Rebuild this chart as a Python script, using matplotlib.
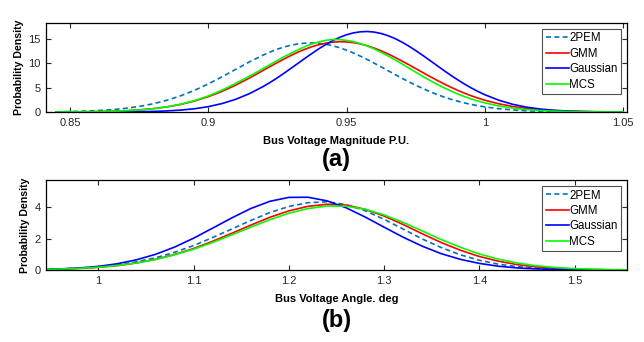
import matplotlib
matplotlib.use("Agg")
import matplotlib.pyplot as plt

plt.rcParams['font.family'] = ['Liberation Sans', 'DejaVu Sans']

# ---- (a) bus voltage magnitude densities ----
mag_x = [0.845, 0.850, 0.855, 0.860, 0.865, 0.870, 0.875, 0.880, 0.885, 0.890,
         0.895, 0.900, 0.905, 0.910, 0.915, 0.920,
         0.9225, 0.925, 0.9275, 0.930, 0.9325, 0.935, 0.9375, 0.940, 0.9425,
         0.945, 0.9475, 0.950, 0.9525, 0.955, 0.9575, 0.960, 0.9625, 0.965,
         0.9675, 0.970, 0.9725, 0.975, 0.9775, 0.980, 0.9825, 0.985, 0.9875,
         0.990, 0.9925, 0.995, 0.9975,
         1.000, 1.005, 1.010, 1.015, 1.020, 1.025, 1.030, 1.035, 1.040,
         1.045, 1.050]
mag_2pem = [0.05, 0.10, 0.17, 0.29, 0.47, 0.75, 1.14, 1.68, 2.41, 3.33,
            4.46, 5.78, 7.25, 8.80, 10.34, 11.75,
            12.37, 12.92, 13.38, 13.75, 14.01, 14.16, 14.20, 14.12, 13.92,
            13.62, 13.21, 12.71, 12.13, 11.48, 10.78, 10.04, 9.27, 8.49,
            7.71, 6.95, 6.21, 5.50, 4.84, 4.22, 3.65, 3.13, 2.66,
            2.25, 1.88, 1.56, 1.29,
            1.05, 0.68, 0.43, 0.26, 0.15, 0.09, 0.05, 0.03, 0.01,
            0.01, 0.00]
mag_gmm = [0.01, 0.03, 0.05, 0.09, 0.15, 0.26, 0.43, 0.68, 1.05, 1.56,
           2.26, 3.15, 4.25, 5.56, 7.03, 8.61,
           9.40, 10.18, 10.94, 11.66, 12.33, 12.92, 13.43, 13.85, 14.16,
           14.36, 14.45, 14.41, 14.26, 13.99, 13.61, 13.14, 12.58, 11.94,
           11.24, 10.49, 9.72, 8.93, 8.13, 7.34, 6.58, 5.85, 5.15,
           4.50, 3.90, 3.35, 2.86,
           2.42, 1.69, 1.14, 0.74, 0.47, 0.29, 0.17, 0.10, 0.05,
           0.03, 0.02]
mag_gauss = [0.00, 0.00, 0.00, 0.01, 0.01, 0.03, 0.06, 0.12, 0.22, 0.39,
             0.67, 1.10, 1.74, 2.63, 3.81, 5.29,
             6.14, 7.05, 8.02, 9.02, 10.04, 11.06, 12.05, 13.01, 13.89,
             14.68, 15.35, 15.89, 16.27, 16.49, 16.55, 16.43, 16.14, 15.69,
             15.10, 14.37, 13.55, 12.63, 11.66, 10.65, 9.63, 8.61, 7.62,
             6.68, 5.79, 4.97, 4.22,
             3.55, 2.43, 1.59, 1.00, 0.61, 0.35, 0.20, 0.10, 0.05,
             0.03, 0.01]
mag_mcs = [0.01, 0.02, 0.04, 0.08, 0.14, 0.24, 0.41, 0.67, 1.05, 1.60,
           2.34, 3.30, 4.50, 5.92, 7.40, 9.00,
           9.80, 10.60, 11.40, 12.10, 12.80, 13.45, 14.00, 14.40, 14.76,
           14.89, 14.87, 14.73, 14.45, 14.06, 13.55, 12.96, 12.26, 11.52,
           10.72, 9.89, 9.03, 8.19, 7.34, 6.54, 5.77, 5.04, 4.37,
           3.75, 3.19, 2.70, 2.25,
           1.87, 1.25, 0.81, 0.50, 0.30, 0.18, 0.10, 0.05, 0.03,
           0.01, 0.01]

# ---- (b) bus voltage angle densities ----
ang_x = [0.94, 0.96, 0.98, 1.00, 1.02, 1.04, 1.06, 1.08, 1.10, 1.12,
         1.14, 1.16, 1.18, 1.20, 1.22, 1.24, 1.26, 1.28, 1.30, 1.32,
         1.34, 1.36, 1.38, 1.40, 1.42, 1.44, 1.46, 1.48, 1.50, 1.52,
         1.54, 1.56]
ang_2pem = [0.03, 0.06, 0.12, 0.20, 0.33, 0.52, 0.78, 1.13, 1.56, 2.07,
            2.61, 3.16, 3.66, 4.05, 4.29, 4.35, 4.17, 3.78, 3.23, 2.61,
            1.98, 1.43, 0.97, 0.62, 0.37, 0.21, 0.11, 0.06, 0.03, 0.01,
            0.00, 0.00]
ang_gmm = [0.03, 0.06, 0.10, 0.17, 0.28, 0.45, 0.68, 0.99, 1.37, 1.83,
           2.34, 2.86, 3.36, 3.77, 4.06, 4.19, 4.14, 3.87, 3.44, 2.90,
           2.31, 1.75, 1.26, 0.86, 0.56, 0.34, 0.20, 0.11, 0.06, 0.03,
           0.01, 0.01]
ang_gauss = [0.03, 0.07, 0.13, 0.23, 0.40, 0.65, 1.00, 1.46, 2.03, 2.67,
             3.32, 3.92, 4.38, 4.63, 4.64, 4.41, 3.97, 3.38, 2.73, 2.09,
             1.52, 1.04, 0.68, 0.42, 0.24, 0.13, 0.07, 0.04, 0.02, 0.01,
             0.00, 0.00]
ang_mcs = [0.03, 0.06, 0.11, 0.18, 0.29, 0.45, 0.67, 0.97, 1.33, 1.76,
           2.24, 2.73, 3.21, 3.62, 3.92, 4.08, 4.07, 3.88, 3.51, 3.03,
           2.49, 1.94, 1.45, 1.02, 0.69, 0.44, 0.27, 0.16, 0.09, 0.05,
           0.02, 0.01]

labels = ['2PEM', 'GMM', 'Gaussian', 'MCS']
colors = ['#0072BD', '#FF0000', '#0000FF', '#00FF00']
styles = ['--', '-', '-', '-']

fig = plt.figure(figsize=(6.44, 3.42), dpi=100)
ax1 = fig.add_axes([46 / 644, 1 - 112 / 342, 581 / 644, 89 / 342])
ax2 = fig.add_axes([46 / 644, 1 - 270 / 342, 581 / 644, 89.7 / 342])


def draw(ax, x, series, xlim, ylim, xticks, yticks, xlabel, tag):
    for ys, lab, c, ls in zip(series, labels, colors, styles):
        line, = ax.plot(x, ys, ls, color=c, lw=1.2, label=lab)
        if ls == '--':
            line.set_dashes((3, 2))
    ax.set_xlim(*xlim)
    ax.set_ylim(*ylim)
    ax.set_xticks(xticks)
    ax.set_xticklabels([f'{t:g}' for t in xticks])
    ax.set_yticks(yticks)
    ax.tick_params(direction='in', length=3.5, width=0.8, top=True, right=True,
                   labelsize=8, colors='#262626', pad=4)
    for s in ax.spines.values():
        s.set_linewidth(0.9)
        s.set_color('black')
    ax.set_xlabel(xlabel, fontsize=8, fontweight='bold', labelpad=6)
    ax.set_ylabel('Probability Density', fontsize=7.6, fontweight='bold',
                  labelpad=3)
    leg = ax.legend(loc='upper right', fontsize=8.3, frameon=True,
                    fancybox=False, handlelength=2.0, handletextpad=0.05,
                    labelspacing=0.30, borderpad=0.3, borderaxespad=0.5,
                    edgecolor='#262626')
    leg.get_frame().set_linewidth(0.8)
    ax.text(0.5, tag[1], tag[0], transform=ax.transAxes, ha='center',
            va='center', fontsize=17, fontweight='bold')


draw(ax1, mag_x, [mag_2pem, mag_gmm, mag_gauss, mag_mcs],
     (0.8413, 1.0514), (0, 18.3), [0.85, 0.9, 0.95, 1.0, 1.05], [0, 5, 10, 15],
     'Bus Voltage Magnitude P.U.', ('(a)', -0.53))
draw(ax2, ang_x, [ang_2pem, ang_gmm, ang_gauss, ang_mcs],
     (0.945, 1.555), (0, 5.72), [1.0, 1.1, 1.2, 1.3, 1.4, 1.5], [0, 2, 4],
     'Bus Voltage Angle. deg', ('(b)', -0.56))

fig.savefig('out.png', dpi=100)
